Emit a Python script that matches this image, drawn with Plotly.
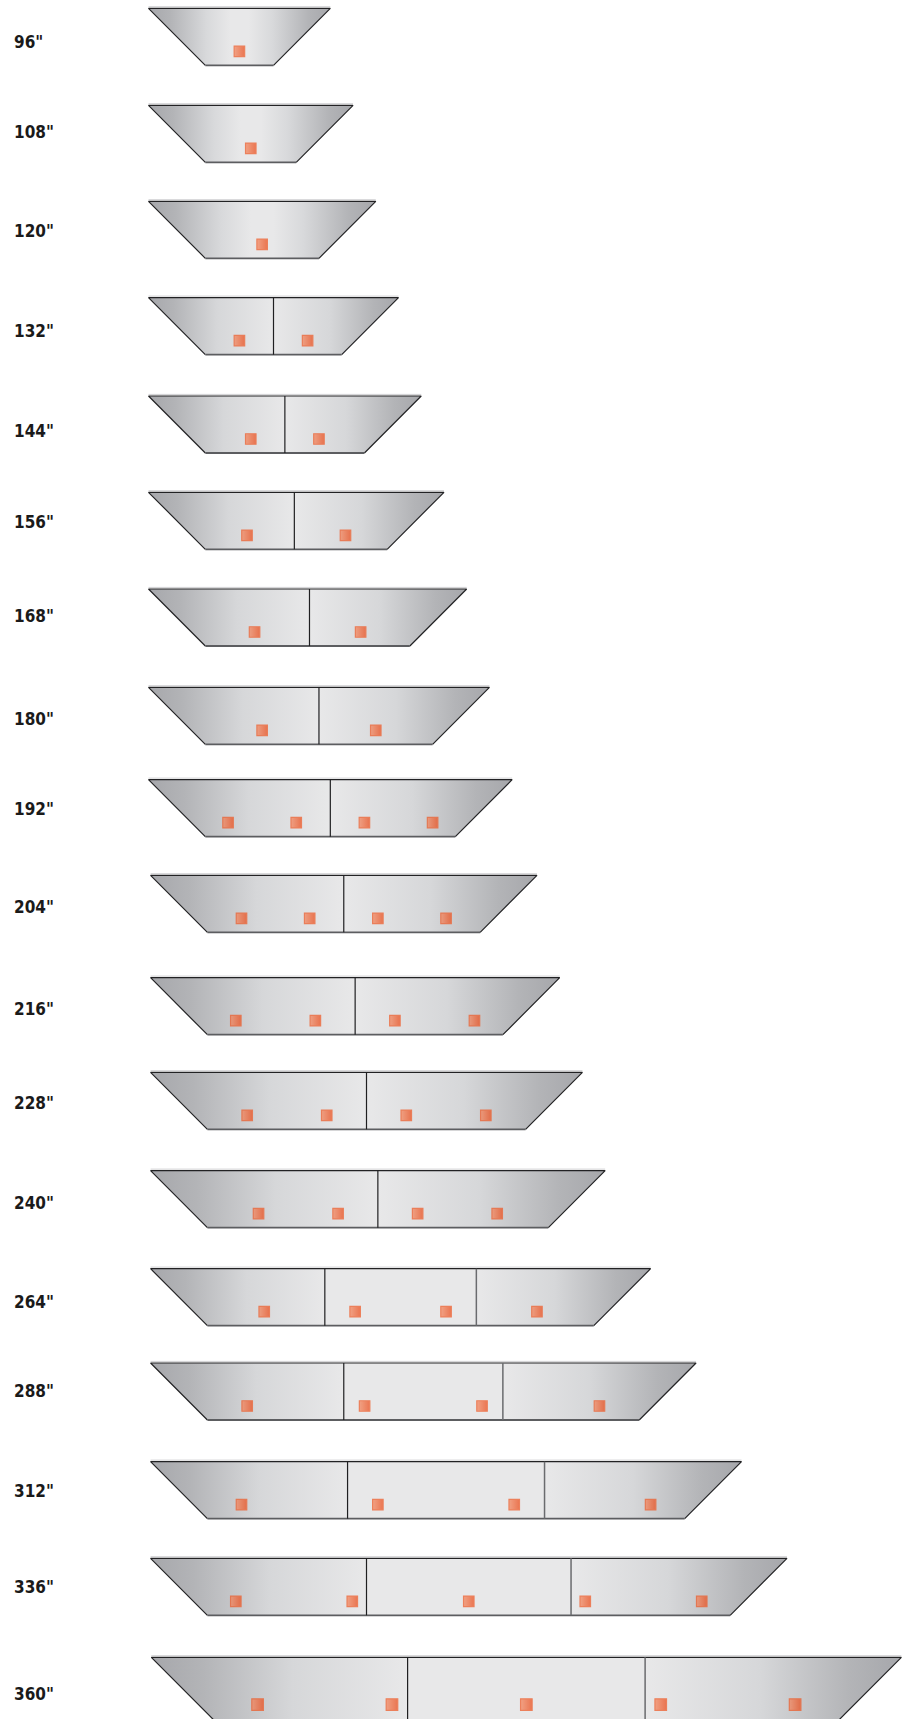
import plotly.graph_objects as go

# ---------------- data (in inches) ----------------
sizes = [96, 108, 120, 132, 144, 156, 168, 180, 192, 204, 216, 228, 240, 264, 288, 312, 336, 360]
labels = [f'{s}"' for s in sizes]
dividers = [[], [], [], [66], [72], [77], [85], [90], [96], [102], [108], [114], [120],
            [92, 172], [102, 186], [104, 208], [114, 222], [123, 237]]
lights = [[48], [54], [60], [48, 84], [54, 90], [52, 104], [56, 112], [60, 120],
          [42, 78, 114, 150], [48, 84, 120, 156], [45, 87, 129, 171], [51, 93, 135, 177],
          [57, 99, 141, 183], [60, 108, 156, 204], [51, 113, 175, 237], [48, 120, 192, 264],
          [45, 106.5, 168, 229.5, 291], [51, 115.5, 180, 244.5, 309]]

# ---------------- layout (pixels / drawing geometry) ----------------
W_PX, H_PX = 908, 1719
PX_PER_IN = 1.894
LEFT_PX = 148.5
row_top_px = [8.3, 105.3, 201.3, 297.7, 396, 492.3, 589, 687.3, 779.7, 875.3, 977.7,
              1072.3, 1170.7, 1268.7, 1363, 1461.7, 1558.3, 1657.3]
label_y_px = [41.7, 131.7, 231, 330.5, 431.2, 521.7, 615.7, 718.7, 809.3, 906.7, 1009.3,
              1102.7, 1203.3, 1302.3, 1390.7, 1490.7, 1587.3, 1694.3]
row_scale = [1.0] * 17 + [1.1]
row_x0 = [0.0] * 9 + [1.1] * 8 + [1.5]
BOX_H = 57.0          # px
SLANT = 30.0          # inches of horizontal offset
LIGHT_DY = 43.0       # px below top edge

DARK = '#a6a7ab'
LIGHT = '#e8e8e9'
outer_scale = [[0, DARK], [0.2, '#b3b4b7'], [0.55, '#d6d7d9'], [1, LIGHT]]
outer_scale_r = [[1 - p, c] for p, c in reversed(outer_scale)]
single_scale = [[0, DARK], [0.12, '#b3b4b7'], [0.32, '#d8d9db'], [0.45, LIGHT], [0.55, LIGHT],
                [0.68, '#d8d9db'], [0.88, '#b3b4b7'], [1, DARK]]

fig = go.Figure()

outline_x, outline_y = [], []
bottom_x, bottom_y = [], []
topl_x, topl_y = [], []
div1_x, div1_y = [], []
div2_x, div2_y = [], []
lx, ly, lsz = [], [], []

for i, size in enumerate(sizes):
    s = row_scale[i]
    x0 = row_x0[i]
    W = size * s
    sl = SLANT * s
    top = row_top_px[i]
    bot = top + BOX_H * s
    edges = [0.0] + [d * s for d in dividers[i]] + [W]
    n = len(edges) - 1
    for k in range(n):
        a, b = edges[k], edges[k + 1]
        ab = sl if k == 0 else a
        bb = W - sl if k == n - 1 else b
        xs = [x0 + a, x0 + b, x0 + bb, x0 + ab, x0 + a]
        ys = [top, top, bot, bot, top]
        kw = {}
        if n == 1:
            kw['fillgradient'] = dict(type='horizontal', colorscale=single_scale)
        elif k == 0:
            kw['fillgradient'] = dict(type='horizontal', colorscale=outer_scale)
        elif k == n - 1:
            kw['fillgradient'] = dict(type='horizontal', colorscale=outer_scale_r)
        else:
            kw['fillcolor'] = LIGHT
        fig.add_trace(go.Scatter(x=xs, y=ys, mode='lines', fill='toself',
                                 line=dict(width=0), hoverinfo='skip', **kw))
    outline_x += [x0 + sl, x0, x0 + W, x0 + W - sl, None]
    outline_y += [bot, top, top, bot, None]
    bottom_x += [x0 + sl, x0 + W - sl, None]
    bottom_y += [bot, bot, None]
    topl_x += [x0, x0 + W, None]
    topl_y += [top - 1.6, top - 1.6, None]
    for j, d in enumerate(dividers[i]):
        if j == 0:
            div1_x += [x0 + d * s, x0 + d * s, None]
            div1_y += [top, bot, None]
        else:
            div2_x += [x0 + d * s, x0 + d * s, None]
            div2_y += [top, bot, None]
    for L in lights[i]:
        lx.append(x0 + L * s)
        ly.append(top + LIGHT_DY * s)
        lsz.append(10.5 * s)

fig.add_trace(go.Scatter(x=topl_x, y=topl_y, mode='lines',
                         line=dict(color='#d2d2d4', width=1), hoverinfo='skip'))
fig.add_trace(go.Scatter(x=outline_x, y=outline_y, mode='lines',
                         line=dict(color='#222224', width=1.2), hoverinfo='skip'))
fig.add_trace(go.Scatter(x=bottom_x, y=bottom_y, mode='lines',
                         line=dict(color='#5c5d60', width=1.8), hoverinfo='skip'))
fig.add_trace(go.Scatter(x=div1_x, y=div1_y, mode='lines',
                         line=dict(color='#1f1f21', width=1.2), hoverinfo='skip'))
fig.add_trace(go.Scatter(x=div2_x, y=div2_y, mode='lines',
                         line=dict(color='#6a6b6e', width=1.5), hoverinfo='skip'))
fig.add_trace(go.Scatter(x=lx, y=ly, mode='markers', hoverinfo='skip',
                         marker=dict(symbol='square', size=lsz, color='#f5845a',
                                     gradient=dict(type='horizontal', color='#ec4612'),
                                     line=dict(color='#ef5520', width=1.2))))

for lab, yv in zip(labels, label_y_px):
    fig.add_annotation(x=12 / W_PX, xref='paper', y=yv, yref='y', text=lab,
                       showarrow=False, xanchor='left', yanchor='middle',
                       font=dict(family='DejaVu Sans Condensed, Liberation Sans Narrow, Arial Narrow, sans-serif',
                                 size=17, color='#1a1a1a', weight='bold'))

fig.update_layout(
    width=W_PX, height=H_PX, margin=dict(l=0, r=0, t=0, b=0),
    paper_bgcolor='white', plot_bgcolor='white', showlegend=False,
    xaxis=dict(range=[-LEFT_PX / PX_PER_IN, (W_PX - LEFT_PX) / PX_PER_IN], visible=False,
               fixedrange=True),
    yaxis=dict(range=[H_PX, 0], visible=False, fixedrange=True),
)

fig.write_html("out.html", config={'displayModeBar': False},
               post_script="document.body.style.margin='0';document.body.style.overflow='hidden';")
